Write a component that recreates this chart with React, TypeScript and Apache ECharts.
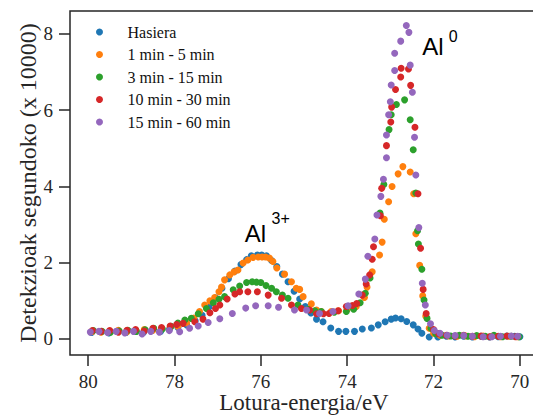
import React, { useEffect, useRef } from "react";
import * as echarts from "echarts";

const seriesNames = ["Hasiera", "1 min - 5 min", "3 min - 15 min", "10 min - 30 min", "15 min - 60 min"];
const seriesColors = ["#1f77b4", "#ff7f0e", "#2ca02c", "#d62728", "#9467bd"];

const xTicks = [80, 78, 76, 74, 72, 70];
const yTicks = [0, 2, 4, 6, 8];

const hasiera = [
  [79.92,0.17],[79.72,0.19],[79.52,0.16],[79.32,0.2],[79.12,0.17],[78.92,0.2],[78.72,0.17],[78.52,0.22],[78.32,0.2],[78.12,0.25],
  [77.92,0.3],[77.72,0.37],[77.52,0.48],[77.36,0.62],[77.2,0.84],[77.05,1.08],[76.9,1.33],[76.75,1.58],[76.6,1.78],[76.46,1.95],
  [76.33,2.08],[76.22,2.18],[76.08,2.2],[75.98,2.2],[75.87,2.18],[75.75,2.06],[75.63,1.9],[75.5,1.7],[75.37,1.5],[75.23,1.25],
  [75.1,1.05],[74.97,0.85],[74.84,0.68],[74.71,0.52],[74.56,0.45],[74.38,0.29],[74.2,0.2],[74.03,0.2],[73.83,0.2],[73.65,0.26],
  [73.44,0.29],[73.28,0.37],[73.12,0.45],[72.98,0.52],[72.88,0.55],[72.75,0.53],[72.62,0.46],[72.47,0.37],[72.36,0.26],[72.27,0.15],
  [72.1,0.05],[71.9,0.05],[71.7,0.07],[71.5,0.05],[71.3,0.07],[71.1,0.05],[70.9,0.07],[70.7,0.05],[70.5,0.06],[70.3,0.08],[70.12,0.07],[70.0,0.06],
];

const min1to5 = [
  [79.9,0.2],[79.7,0.18],[79.5,0.21],[79.3,0.23],[79.1,0.19],[78.9,0.23],[78.7,0.25],[78.5,0.23],[78.3,0.27],[78.1,0.3],
  [77.92,0.33],[77.72,0.42],[77.55,0.55],[77.42,0.72],[77.3,0.89],[77.18,1.0],[77.07,1.09],[76.97,1.24],[76.91,1.36],[76.84,1.55],
  [76.72,1.68],[76.62,1.76],[76.53,1.81],[76.41,1.99],[76.3,2.07],[76.18,2.14],[76.06,2.15],[75.97,2.15],[75.89,2.15],[75.8,2.12],
  [75.72,2.03],[75.63,1.86],[75.45,1.7],[75.29,1.5],[75.18,1.33],[75.1,1.3],[75.02,1.11],[74.83,0.92],[74.71,0.76],[74.6,0.72],
  [74.37,0.72],[74.2,0.74],[74.0,0.78],[73.79,0.85],[73.6,1.09],[73.54,1.36],[73.42,1.76],[73.25,2.2],[73.19,2.54],[73.14,3.14],
  [73.04,3.6],[72.96,4.0],[72.82,4.33],[72.71,4.52],[72.54,4.38],[72.46,3.81],[72.41,2.76],[72.32,1.93],[72.25,1.13],[72.18,0.6],
  [72.1,0.28],[72.0,0.15],[71.85,0.1],[71.65,0.08],[71.45,0.07],[71.25,0.08],[71.05,0.06],[70.85,0.08],[70.65,0.07],[70.45,0.06],[70.25,0.07],[70.05,0.06],
];

const min3to15 = [
  [79.88,0.22],[79.68,0.2],[79.48,0.18],[79.28,0.21],[79.08,0.23],[78.88,0.2],[78.68,0.24],[78.48,0.28],[78.28,0.26],[78.08,0.33],
  [77.92,0.42],[77.76,0.5],[77.61,0.54],[77.45,0.66],[77.26,0.8],[77.1,0.95],[76.97,1.04],[76.84,1.11],[76.64,1.29],[76.49,1.39],
  [76.33,1.48],[76.2,1.5],[76.1,1.49],[76.0,1.48],[75.88,1.4],[75.75,1.33],[75.64,1.24],[75.5,1.15],[75.37,1.07],[75.14,0.89],
  [74.91,0.78],[74.75,0.74],[74.6,0.72],[74.3,0.7],[74.02,0.72],[73.85,0.78],[73.7,0.95],[73.58,1.2],[73.47,1.6],[73.24,3.3],
  [73.15,4.05],[73.03,5.49],[72.98,5.88],[72.86,6.15],[72.67,6.27],[72.54,5.75],[72.47,4.96],[72.41,3.83],[72.37,2.84],[72.35,2.49],
  [72.27,1.83],[72.22,1.02],[72.15,0.54],[72.06,0.28],[71.95,0.14],[71.8,0.1],[71.6,0.08],[71.4,0.1],[71.2,0.07],[71.0,0.09],
  [70.8,0.07],[70.6,0.1],[70.4,0.06],[70.2,0.07],[70.02,0.06],
];

const min10to30 = [
  [79.9,0.22],[79.7,0.2],[79.5,0.22],[79.3,0.18],[79.1,0.23],[78.9,0.25],[78.7,0.21],[78.5,0.28],[78.3,0.3],[78.1,0.34],
  [77.95,0.38],[77.8,0.41],[77.53,0.45],[77.34,0.52],[77.18,0.69],[77.05,0.8],[76.95,0.89],[76.78,1.05],[76.6,1.18],[76.49,1.24],
  [76.3,1.24],[76.08,1.24],[75.83,1.15],[75.52,1.07],[75.29,0.89],[75.06,0.8],[74.87,0.76],[74.71,0.66],[74.55,0.66],[74.42,0.67],
  [74.21,0.74],[74.02,0.85],[73.88,0.88],[73.78,0.93],[73.65,1.15],[73.56,1.44],[73.48,1.68],[73.42,2.09],[73.39,2.42],[73.23,3.23],
  [73.2,3.95],[73.09,5.07],[72.99,5.69],[72.97,6.08],[72.88,6.54],[72.76,6.87],[72.75,7.1],[72.58,7.08],[72.53,6.65],[72.43,5.55],
  [72.36,3.81],[72.3,2.38],[72.24,1.3],[72.17,0.67],[72.0,0.25],[71.88,0.14],[71.7,0.1],[71.5,0.08],[71.3,0.1],[71.1,0.07],
  [70.9,0.08],[70.7,0.06],[70.5,0.07],[70.3,0.08],[70.1,0.06],
];

const min15to60 = [
  [79.95,0.18],[79.75,0.2],[79.55,0.17],[79.35,0.2],[79.15,0.16],[78.95,0.2],[78.75,0.13],[78.55,0.2],[78.35,0.18],[78.12,0.22],
  [77.88,0.19],[77.65,0.28],[77.45,0.34],[77.22,0.43],[76.95,0.53],[76.66,0.67],[76.35,0.81],[76.12,0.87],[75.83,0.87],[75.59,0.83],
  [75.22,0.76],[74.94,0.76],[74.64,0.67],[74.33,0.72],[73.98,0.87],[73.73,1.18],[73.58,1.57],[73.52,2.17],[73.36,2.62],[73.31,3.25],
  [73.22,3.74],[73.16,4.19],[73.09,4.75],[73.09,5.35],[73.04,5.88],[73.0,6.22],[72.98,6.66],[72.9,7.04],[72.9,7.49],[72.76,7.81],
  [72.63,8.22],[72.57,8.04],[72.54,7.18],[72.49,6.47],[72.44,5.29],[72.41,4.3],[72.34,2.92],[72.26,1.46],[72.19,0.89],[72.07,0.4],
  [71.98,0.22],[71.85,0.15],[71.68,0.1],[71.5,0.09],[71.3,0.09],[71.1,0.07],[70.85,0.06],[70.65,0.06],[70.45,0.07],[70.2,0.08],[70.05,0.07],
];

const seriesData = [hasiera, min1to5, min3to15, min10to30, min15to60];

const annotationLabels = ["Al", "Al"];
const annotationSups = ["0", "3+"];
const annotationBase = [[72.26, 7.45], [76.37, 2.55]];
const annotationSupBase = [[71.65, 7.8], [75.75, 3.02]];

const SERIF = "'Liberation Serif', 'DejaVu Serif', serif";
const SANS = "'Liberation Sans', Arial, sans-serif";
const INK = "#262626";

export default function App() {
  const ref = useRef<HTMLDivElement>(null);
  useEffect(() => {
    if (!ref.current) return;
    const chart = echarts.init(ref.current, null, { renderer: "svg" });
    const option: any = {
      animation: false,
      backgroundColor: "#ffffff",
      grid: {
        left: 70,
        right: -5,
        top: 11,
        bottom: 63,
        containLabel: false,
        outerBoundsMode: "none",
        show: true,
        borderColor: INK,
        borderWidth: 1.5,
        backgroundColor: "transparent",
      },
      legend: {
        orient: "vertical",
        left: 91,
        top: 19,
        icon: "circle",
        itemWidth: 46,
        itemHeight: 7,
        itemGap: 6.5,
        data: seriesNames,
        textStyle: { fontFamily: SERIF, fontSize: 16, color: "#111", lineHeight: 16 },
      },
      xAxis: {
        type: "value",
        inverse: true,
        min: 69.58,
        max: 80.42,
        name: "Lotura-energia/eV",
        nameLocation: "middle",
        nameMoveOverlap: false,
        nameGap: 36,
        nameTextStyle: { fontFamily: SERIF, fontSize: 23, color: INK, lineHeight: 23 },
        axisLine: { show: false, onZero: false },
        axisTick: { show: true, inside: false, length: 11, customValues: xTicks, lineStyle: { color: INK, width: 1.5 } },
        axisLabel: { customValues: xTicks, margin: 17, fontFamily: SERIF, fontSize: 19, color: INK },
        splitLine: { show: false },
      },
      yAxis: {
        type: "value",
        min: -0.42,
        max: 8.6,
        name: "Detekzioak segundoko (x 10000)",
        nameLocation: "middle",
        nameMoveOverlap: false,
        nameGap: 30,
        nameTextStyle: { fontFamily: SERIF, fontSize: 24, color: INK },
        axisLine: { show: false, onZero: false },
        axisTick: { show: true, inside: false, length: 11, customValues: yTicks, lineStyle: { color: INK, width: 1.5 } },
        axisLabel: { customValues: yTicks, margin: 17, fontFamily: SERIF, fontSize: 19, color: INK },
        splitLine: { show: false },
      },
      series: seriesNames.map((name, i) => ({
        name,
        type: "scatter",
        data: seriesData[i],
        symbol: "circle",
        symbolSize: 7,
        itemStyle: { color: seriesColors[i], opacity: 1 },
        z: 2 + i,
      })),
    };
    chart.setOption(option);

    const graphics: any[] = [];
    annotationLabels.forEach((label, i) => {
      const b = chart.convertToPixel({ gridIndex: 0 }, annotationBase[i]) as number[];
      const s = chart.convertToPixel({ gridIndex: 0 }, annotationSupBase[i]) as number[];
      graphics.push({
        type: "text",
        x: b[0],
        y: b[1] - 0.33 * 24,
        z: 100,
        style: { text: label, fontFamily: SANS, fontSize: 24, fill: "#000", align: "left", verticalAlign: "middle" },
      });
      graphics.push({
        type: "text",
        x: s[0],
        y: s[1] - 0.33 * 16,
        z: 100,
        style: { text: annotationSups[i], fontFamily: SANS, fontSize: 16, fill: "#000", align: "left", verticalAlign: "middle" },
      });
    });
    chart.setOption({ graphic: graphics });

    return () => chart.dispose();
  }, []);
  return <div ref={ref} style={{ position: "absolute", left: 0, top: 0, width: 533, height: 418 }} />;
}
